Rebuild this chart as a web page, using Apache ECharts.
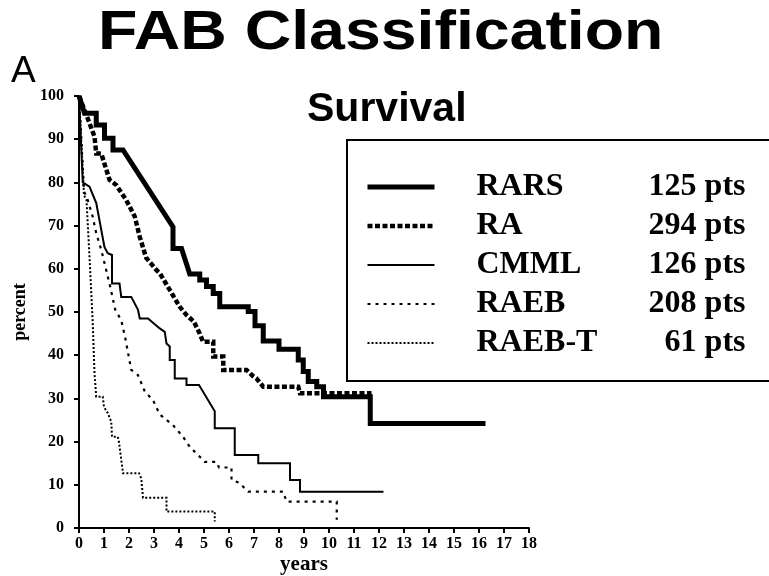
<!DOCTYPE html>
<html>
<head>
<meta charset="utf-8">
<script src="https://cdn.jsdelivr.net/npm/echarts@6/dist/echarts.min.js"></script>
<style>
  html, body { margin: 0; padding: 0; background: #ffffff; }
  #chart { width: 769px; height: 576px; }
</style>
</head>
<body>
<div id="chart"></div>
<script>
// Kaplan-Meier survival by FAB subtype: [years, percent surviving]
const rarsSurvival = [[0,100],[0.22,96],[0.69,96],[0.69,93.3],[1.02,93.3],[1.02,90.2],[1.36,90.2],[1.36,87.5],[1.76,87.5],[3.76,69.7],[3.76,64.7],[4.1,64.7],[4.43,58.8],[4.83,58.8],[4.83,57.4],[5.1,57.4],[5.1,55.9],[5.37,55.9],[5.37,54.3],[5.63,54.3],[5.63,51.2],[6.77,51.2],[6.77,50.1],[7.04,50.1],[7.04,46.8],[7.37,46.8],[7.37,43.3],[8.0,43.3],[8.0,41.4],[8.77,41.4],[8.77,38.9],[8.97,38.9],[8.97,36.2],[9.17,36.2],[9.17,33.9],[9.51,33.9],[9.51,32.7],[9.78,32.7],[9.78,30.4],[11.65,30.4],[11.65,24.2],[16.26,24.2]];
const raSurvival = [[0,100],[0.35,94.8],[0.62,90.6],[0.69,86.7],[0.89,86.7],[1.22,80.6],[1.49,79.4],[1.89,75.9],[2.23,72.1],[2.43,67.4],[2.69,62.5],[3.1,59.7],[3.23,59],[3.63,55.1],[4.03,51.2],[4.3,49.3],[4.59,47.8],[4.83,45],[4.96,43.1],[5.37,43.1],[5.37,39.7],[5.77,39.7],[5.77,36.6],[6.7,36.6],[6.95,35.2],[7.1,34.6],[7.37,32.7],[8.77,32.7],[8.84,31.2],[11.7,31.2]];
const cmmlSurvival = [[0,100],[0.15,80],[0.42,79],[0.69,75.2],[1.02,65],[1.15,63.6],[1.32,63.2],[1.32,56.6],[1.62,56.6],[1.69,53.5],[2.09,53.5],[2.36,50.5],[2.43,48.5],[2.76,48.5],[3.23,46.2],[3.43,45.4],[3.5,42.7],[3.63,42],[3.63,38.9],[3.83,38.9],[3.83,34.6],[4.3,34.6],[4.3,33.1],[4.8,33.1],[5.43,27],[5.43,23.1],[6.23,23.1],[6.23,16.9],[7.17,16.9],[7.17,15],[8.44,15],[8.44,11.1],[8.84,11.1],[8.84,8.4],[12.18,8.4]];
const raebSurvival = [[0,100],[0.2,78],[0.35,75.9],[0.55,72],[0.69,68.2],[0.89,64.4],[1.22,56.6],[1.45,50.5],[1.69,48.1],[1.85,44],[2.09,36.6],[2.36,35.4],[2.63,31.6],[2.96,29.6],[3.23,26.3],[3.76,23.8],[4.16,21.1],[4.43,18.8],[4.83,16.5],[5.03,15.3],[5.5,15.3],[5.6,14],[6.1,14],[6.1,11.1],[6.4,10.5],[6.77,8.4],[8.17,8.4],[8.3,6.1],[10.31,6.1],[10.31,1.9]];
const raebtSurvival = [[0,100],[0.2,77],[0.3,75.9],[0.42,62.8],[0.55,47.4],[0.62,35.8],[0.69,30.4],[0.95,30.4],[1.0,28],[1.15,26.6],[1.29,24.6],[1.32,21.1],[1.55,21.1],[1.6,19.8],[1.76,12.7],[2.4,12.7],[2.49,11.5],[2.56,7],[3.5,7],[3.5,3.8],[5.43,3.8],[5.43,1.5]];

const subtypeNames = ['RARS', 'RA', 'CMML', 'RAEB', 'RAEB-T'];
const patientCounts = [125, 294, 126, 208, 61];

const xTicks = { min: 0, max: 18, step: 1 };
const yTicks = { min: 0, max: 100, step: 10 };

const curveData = [rarsSurvival, raSurvival, cmmlSurvival, raebSurvival, raebtSurvival];
const curveStyles = [
  { width: 5, type: 'solid' },
  { width: 4.5, type: [5, 2.5] },
  { width: 2, type: 'solid' },
  { width: 2.2, type: [3, 5] },
  { width: 2, type: [2, 2] }
];

const serifBold = { fontFamily: 'Liberation Serif', fontWeight: 'bold', color: '#000' };

const chart = echarts.init(document.getElementById('chart'), null, { renderer: 'canvas' });

chart.setOption({
  animation: false,
  backgroundColor: '#ffffff',
  grid: { left: 79, right: 240, top: 96, bottom: 48, containLabel: false, outerBoundsMode: 'none' },
  xAxis: {
    type: 'value', min: xTicks.min, max: xTicks.max, interval: xTicks.step,
    name: 'years', nameLocation: 'middle', nameGap: 26, nameMoveOverlap: false,
    nameTextStyle: Object.assign({ fontSize: 21 }, serifBold),
    axisLine: { lineStyle: { color: '#000', width: 2 } },
    axisTick: { length: 5, lineStyle: { color: '#000', width: 2 } },
    axisLabel: Object.assign({ fontSize: 16, margin: 8 }, serifBold),
    splitLine: { show: false }
  },
  yAxis: {
    type: 'value', min: yTicks.min, max: yTicks.max, interval: yTicks.step,
    name: 'percent', nameLocation: 'middle', nameGap: 50, nameRotate: 90, nameMoveOverlap: false,
    nameTextStyle: Object.assign({ fontSize: 18 }, serifBold),
    axisLine: { show: true, lineStyle: { color: '#000', width: 2 } },
    axisTick: { show: true, length: 5, lineStyle: { color: '#000', width: 2 } },
    axisLabel: Object.assign({ fontSize: 16, margin: 15 }, serifBold),
    splitLine: { show: false }
  },
  legend: {
    orient: 'vertical', left: 365, top: 171, padding: 0,
    itemWidth: 67, itemHeight: 20, itemGap: 7,
    selectedMode: false,
    data: subtypeNames,
    itemStyle: { opacity: 0 },
    lineStyle: { width: 'inherit', type: 'inherit' },
    formatter: function (name) {
      const i = subtypeNames.indexOf(name);
      return '{n|' + name + '}{c|' + patientCounts[i] + ' pts}';
    },
    textStyle: {
      rich: {
        n: { fontFamily: 'Liberation Serif', fontWeight: 'bold', fontSize: 32, lineHeight: 36, width: 150, padding: [0, 0, 0, 37], color: '#000' },
        c: { fontFamily: 'Liberation Serif', fontWeight: 'bold', fontSize: 32, lineHeight: 36, width: 119, align: 'right', color: '#000' }
      }
    }
  },
  graphic: [
    { type: 'rect', z: -1, silent: true,
      shape: { x: 347, y: 140, width: 450, height: 241 },
      style: { fill: '#fff', stroke: '#000', lineWidth: 2 } },
    { type: 'text', x: 98, y: 6, scaleX: 1.15, silent: true,
      style: { text: 'FAB Classification', fontFamily: 'Liberation Sans', fontWeight: 'bold', fontSize: 56, fill: '#000' } },
    { type: 'text', x: 11, y: 53, silent: true,
      style: { text: 'A', fontFamily: 'Liberation Sans', fontWeight: 'normal', fontSize: 37, fill: '#000' } },
    { type: 'text', x: 307, y: 89, silent: true,
      style: { text: 'Survival', fontFamily: 'Liberation Sans', fontWeight: 'bold', fontSize: 41, fill: '#000' } }
  ],
  series: subtypeNames.map(function (name, i) {
    return {
      name: name,
      type: 'line',
      data: curveData[i],
      symbol: 'none',
      showSymbol: false,
      smooth: false,
      z: 2 + i,
      lineStyle: { color: '#000', width: curveStyles[i].width, type: curveStyles[i].type, cap: 'butt', join: 'miter' },
      itemStyle: { color: '#000' }
    };
  })
});
</script>
</body>
</html>
